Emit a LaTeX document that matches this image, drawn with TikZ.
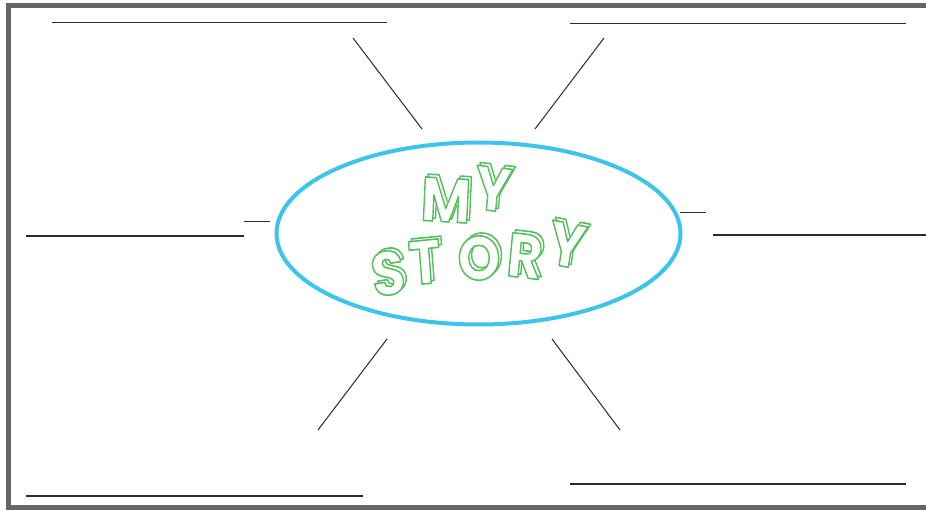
\documentclass[tikz,border=0pt]{standalone}
\usepackage{fontspec}
\setmainfont{Poppins}
\usetikzlibrary{calc,shapes.geometric}
\definecolor{frame}{HTML}{666666}
\definecolor{ringblue}{HTML}{3EC4EA}
\definecolor{ink}{HTML}{2A2A2A}
% outlined letter: white fill first, then green stroke (text render mode 1)
\newcommand{\outl}[1]{\rlap{\textcolor{white}{#1}}\special{pdf:literal direct 1 Tr 1.6 w 1 j 0.333 0.745 0.369 RG}#1\special{pdf:literal direct 0 Tr 0 G}}
\tikzset{
  writeline/.style={draw=ink, line width=1.1pt},
  spoke/.style={draw=ink, line width=1pt},
  letterbox/.style={inner sep=0pt, xscale=0.88, font=\fontsize{62}{62}\selectfont\bfseries},
}
\newcommand{\storylet}[4]{%
  \node[letterbox, rotate=#3] (#1back) at ($(#2)+(2.8,-2.8)$) {\outl{#4}};
  \node[letterbox, rotate=#3] (#1) at (#2) {\outl{#4}};
}
\begin{document}
\begin{tikzpicture}[x=1pt,y=-1pt]
\useasboundingbox (0,0) rectangle (926,510);
\fill[white] (0,0) rectangle (926,510);
% frame
\draw[frame, line width=5.5pt] (8.5,5.5) -- (940,5.5);
\draw[frame, line width=5.5pt] (8.5,3) -- (8.5,510);
\draw[frame, line width=5.5pt] (6,507.5) -- (940,507.5);
% central ellipse
\node[draw=ringblue, line width=4pt, ellipse, minimum width=404, minimum height=182, inner sep=0pt] (hub) at (478.5,233.5) {};
% letters
\storylet{m}{446,200}{-3}{M}
\storylet{ya}{493,189}{-6}{Y}
\storylet{s}{388,273}{8}{S}
\storylet{t}{425,262}{5}{T}
\storylet{o}{479,258}{2}{O}
\storylet{r}{525,256}{-6}{R}
\storylet{yb}{567,245}{-10}{Y}
% spokes
\coordinate (s1a) at (353,38); \coordinate (s1b) at (422,129);
\coordinate (s2a) at (604,38); \coordinate (s2b) at (535,129);
\coordinate (s3a) at (387,339); \coordinate (s3b) at (318,430);
\coordinate (s4a) at (552,339); \coordinate (s4b) at (620,430);
\coordinate (s5a) at (244,222); \coordinate (s5b) at (270,222);
\coordinate (s6a) at (680,213); \coordinate (s6b) at (706,213);
\draw[spoke] (s1a) -- (s1b);
\draw[spoke] (s2a) -- (s2b);
\draw[spoke] (s3a) -- (s3b);
\draw[spoke] (s4a) -- (s4b);
\draw[spoke] (s5a) -- (s5b);
\draw[spoke] (s6a) -- (s6b);
% writing lines
\coordinate (w1a) at (52,22.5); \coordinate (w1b) at (387,22.5);
\coordinate (w2a) at (570,23.5); \coordinate (w2b) at (906,23.5);
\coordinate (w3a) at (26,236); \coordinate (w3b) at (244,236);
\coordinate (w4a) at (713,235); \coordinate (w4b) at (926,235);
\coordinate (w5a) at (26,496); \coordinate (w5b) at (363,496);
\coordinate (w6a) at (570,484); \coordinate (w6b) at (906,484);
\draw[writeline] (w1a) -- (w1b);
\draw[writeline] (w2a) -- (w2b);
\draw[writeline] (w3a) -- (w3b);
\draw[writeline] (w4a) -- (w4b);
\draw[writeline] (w5a) -- (w5b);
\draw[writeline] (w6a) -- (w6b);
\end{tikzpicture}
\end{document}
